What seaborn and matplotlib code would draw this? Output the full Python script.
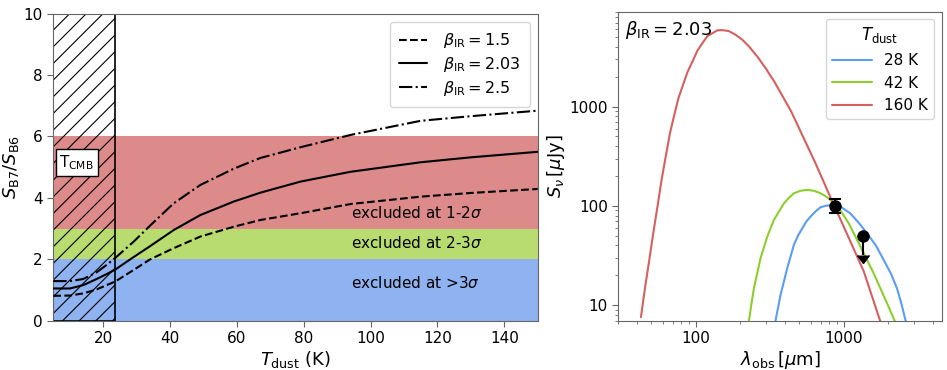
import matplotlib
matplotlib.use("Agg")

import matplotlib.pyplot as plt
import seaborn as sns

# left panel: flux ratio vs dust temperature
t_dust = [5, 10, 14, 18, 21, 23.6, 29, 34, 41, 49, 59, 67, 79, 94, 115, 130, 150]
ratio_b15 = [0.81, 0.82, 0.89, 1.02, 1.16, 1.28, 1.65, 2.0, 2.36, 2.74, 3.06, 3.28,
             3.5, 3.8, 4.04, 4.16, 4.29]
ratio_b203 = [1.05, 1.05, 1.16, 1.36, 1.52, 1.67, 2.07, 2.43, 2.95, 3.44, 3.88, 4.17,
              4.53, 4.85, 5.16, 5.32, 5.5]
ratio_b25 = [1.29, 1.29, 1.36, 1.58, 1.82, 2.05, 2.57, 3.1, 3.82, 4.42, 4.95, 5.3,
             5.65, 6.05, 6.51, 6.66, 6.84]
t_cmb = 23.6

band_edges = [0, 2, 3, 6]
band_labels = ["excluded at >3$\\sigma$", "excluded at 2-3$\\sigma$", "excluded at 1-2$\\sigma$"]
band_text_y = [1.22, 2.52, 3.52]

# right panel: SEDs for beta = 2.03
lam_28 = [346, 360, 374, 415, 460, 490, 525, 560, 596, 650, 697, 750, 813, 880, 950,
          1109, 1260, 1437, 1650, 1862, 2080, 2291, 2450, 2606, 2700]
sed_28 = [7.0, 9.5, 12.7, 23.6, 40.4, 50, 59.6, 70, 78, 89, 97, 100, 102, 101, 98.5,
          84, 68, 53, 40, 28.6, 21, 14.8, 10.5, 7.2, 6.3]
lam_42 = [229, 237, 247, 274, 304, 337, 360, 394, 420, 460, 510, 566, 630, 697, 750,
          813, 950, 1080, 1231, 1400, 1594, 1780, 1962, 2200, 2280]
sed_42 = [7.0, 10, 14.8, 29.7, 49, 72, 85, 106, 118, 134, 142, 145, 142, 134, 126,
          115, 90, 67, 45.5, 31, 21, 14.5, 10.5, 7.1, 6.3]
lam_160 = [42.6, 45.4, 48.4, 51.7, 55.2, 58.9, 62.8, 67, 71.4, 76.2, 81.3, 87.9, 95,
           102.7, 111, 120, 130, 140, 151, 167, 186, 206, 229, 260, 296, 340, 384, 440,
           498, 560, 640, 720, 813, 1054, 1365, 1750, 1800]
sed_160 = [7.6, 15, 28, 54, 100, 187, 320, 542, 810, 1200, 1590, 2220, 2840, 3660,
           4350, 5120, 5480, 5850, 5870, 5750, 5270, 4710, 4020, 3200, 2440, 1775,
           1290, 900, 610, 420, 275, 185, 122, 52, 22, 7.2, 6.4]

obs_lam = [870]
obs_flux = [100]
obs_err = [[16], [17]]
lim_lam = [1350]
lim_flux = [50]
lim_arrow = [18]

sns.set_style("ticks", {"text.color": "black", "axes.labelcolor": "black"})
plt.rcParams["font.family"] = ["DejaVu Sans"]
plt.rcParams["hatch.linewidth"] = 0.8

grey = "#666666"
fig = plt.figure(figsize=(9.47, 3.70), dpi=100)
ax1 = fig.add_axes([0.0563, 0.1332, 0.5115, 0.830])
ax2 = fig.add_axes([0.653, 0.1332, 0.3415, 0.8352])

# ---- left panel
band_colors = ["#8fb2f0", "#b9dc70", "#dc8a8a"]
for lo, hi, c in zip(band_edges[:-1], band_edges[1:], band_colors):
    ax1.axhspan(lo, hi, color=c, lw=0, zorder=0)
ax1.axvspan(5, t_cmb, fill=False, hatch="//", edgecolor="k", lw=1.2, zorder=1)

series = [("$\\beta_{\\rm IR} = 1.5$", ratio_b15, "--"),
          ("$\\beta_{\\rm IR} = 2.03$", ratio_b203, "-"),
          ("$\\beta_{\\rm IR} = 2.5$", ratio_b25, "-.")]
for label, vals, ls in series:
    sns.lineplot(x=t_dust, y=vals, ax=ax1, color="k", linestyle=ls, lw=1.5,
                 label=label, zorder=3)

for txt, y in zip(band_labels, band_text_y):
    ax1.text(94, y, txt, fontsize=11, va="center", ha="left")
ax1.text(12, 5.15, "T$_{\\rm CMB}$", fontsize=11, ha="center", va="center",
         bbox=dict(facecolor="white", edgecolor="k", boxstyle="square,pad=0.25"))

ax1.set_xlim(5, 150)
ax1.set_ylim(0, 10)
ax1.set_xticks([20, 40, 60, 80, 100, 120, 140])
ax1.set_xlabel("$T_{\\rm dust}$ (K)", fontsize=13, labelpad=2)
ax1.set_ylabel("$S_{\\rm B7}/S_{\\rm B6}$", fontsize=13, labelpad=2)
ax1.legend(loc="upper right", fontsize=11.5, handlelength=1.7, labelspacing=0.3,
           borderpad=0.6, handletextpad=1.0)

# ---- right panel
ax2.set_xscale("log")
ax2.set_yscale("log")
seds = [("28 K", lam_28, sed_28, "#5b9cf4"),
        ("42 K", lam_42, sed_42, "#8cce2c"),
        ("160 K", lam_160, sed_160, "#d6605e")]
for label, lam, sed, c in seds:
    sns.lineplot(x=lam, y=sed, ax=ax2, color=c, lw=1.5, label=label)

ax2.errorbar(obs_lam, obs_flux, yerr=obs_err, fmt="o", color="k", ms=8, capsize=4,
             elinewidth=1.5, capthick=1.5, zorder=5)
ax2.errorbar(lim_lam, lim_flux, yerr=lim_arrow, uplims=True, fmt="o", color="k", ms=8,
             capsize=4, elinewidth=1.5, zorder=5)

ax2.set_xlim(30, 4600)
ax2.set_ylim(7, 9000)
ax2.set_xticks([100, 1000])
ax2.set_xticklabels(["100", "1000"])
ax2.set_yticks([10, 100, 1000])
ax2.set_yticklabels(["10", "100", "1000"])
ax2.set_xlabel("$\\lambda_{\\rm obs}\\,[\\mu{\\rm m}]$", fontsize=13, labelpad=2)
ax2.set_ylabel("$S_{\\nu}\\,[\\mu{\\rm Jy}]$", fontsize=13, labelpad=2)
ax2.text(0.02, 0.975, "$\\beta_{\\rm IR} = 2.03$", transform=ax2.transAxes,
         fontsize=13, ha="left", va="top")
ax2.legend(title="$T_{\\rm dust}$", loc="upper right", fontsize=11, title_fontsize=12,
           handlelength=2.6)

for ax in (ax1, ax2):
    for sp in ax.spines.values():
        sp.set_visible(True)
        sp.set_color(grey)
    ax.tick_params(which="both", colors=grey, labelcolor="k", labelsize=11)
    ax.tick_params(which="major", length=4)
    ax.tick_params(which="minor", length=2.5)

fig.savefig("out.png", dpi=100)
